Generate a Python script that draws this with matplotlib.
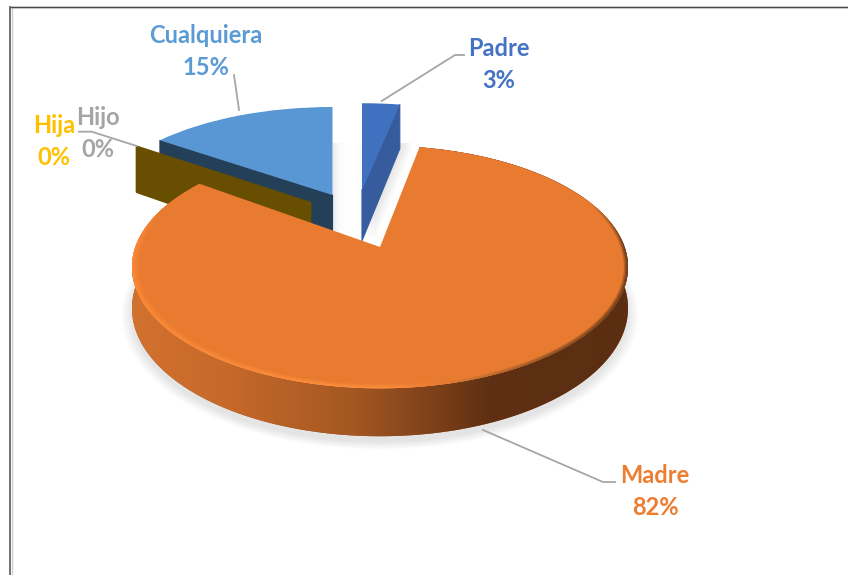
import numpy as np
import matplotlib
matplotlib.use("Agg")
import matplotlib.pyplot as plt
from matplotlib.transforms import Transform
from matplotlib.collections import PolyCollection
from matplotlib.colors import LinearSegmentedColormap
from matplotlib.patches import Polygon, Circle, Rectangle

categories = ["Padre", "Madre", "Hija", "Hijo", "Cualquiera"]
percentages = [3, 82, 0, 0, 15]
slice_colors = ["#4070c0", "#e97b31", "#ffc000", "#a5a5a5", "#5897d3"]
label_colors = ["#4472c4", "#ed7d31", "#ffc000", "#a5a5a5", "#5b9bd5"]
face_colors = ["#365c9e", "#8a4a1c", "#674e00", "#6e6e6e", "#243f58"]

# layout of the projected slices, in pixels
TIP_Y, A, B, P = 247.0, 244.6, 118.0, 0.165
slice_tip_x = [362.0, 380.0, 310.0, 310.0, 332.5]
slice_lift = [0.525, 0.0, 0.397, 0.397, 0.475]
slice_scale = [1.03, 1.0, 1.016, 1.016, 1.025]
slice_depth = [55, 40, 52, 52, 54]
label_pos = [(499, 64.5), (655, 491.5), (54, 141.5), (98, 133.5), (206, 51.5)]
leaders = [
    ([381.7, 455, 464], [101, 55, 55]),
    ([483, 603, 615], [430, 482, 482]),
    ([136.7, 91.7, 79], [146, 131.7, 131.7]),
    ([239, 234], [110, 75]),
]


class Persp(Transform):
    input_dims = 2
    output_dims = 2
    is_separable = False
    has_inverse = False

    def __init__(self, i, zdrop=0.0):
        super().__init__()
        self.tip_x = slice_tip_x[i]
        self.sx = slice_scale[i]
        self.zdrop = zdrop

    def transform_non_affine(self, values):
        values = np.asarray(values, dtype=float)
        u, v = values[:, 0], values[:, 1]
        w = 1 + P * v
        return np.column_stack([self.tip_x + self.sx * A * u / w,
                                TIP_Y + (self.zdrop - B * v) / w])


fig = plt.figure(figsize=(8.48, 5.75), dpi=100, facecolor="white")
ax = fig.add_axes([0, 0, 1, 1])

wedges, _ = ax.pie(percentages, colors=slice_colors, startangle=90,
                   counterclock=False, radius=1.0,
                   wedgeprops=dict(linewidth=0))
ax.set_aspect("auto")
ax.set_xlim(0, 848)
ax.set_ylim(575, 0)
ax.axis("off")


def rim(i, theta, r=1.0):
    t = np.radians(theta)
    return np.column_stack([r * np.cos(t), slice_lift[i] + r * np.sin(t)])


def cut_face(i, theta, color, lw=0.8, z=2):
    pts = np.vstack([[0.0, slice_lift[i]], rim(i, np.array([theta]))])
    top = Persp(i).transform_non_affine(pts)
    bot = Persp(i, slice_depth[i]).transform_non_affine(pts)
    ax.add_patch(Polygon(np.vstack([top, bot[::-1]]), closed=True, facecolor=color,
                         edgecolor=color, linewidth=lw, joinstyle="round", zorder=z))


# soft ground shadow of the large slice, only below the gaps
ground_clip = Rectangle((0, 262), 848, 313, transform=ax.transData)
for r in np.linspace(1.04, 1.0, 9):
    disc = Circle((0, 0), r, facecolor="black", alpha=0.012, linewidth=0,
                  transform=Persp(1, slice_depth[1] + 5) + ax.transData, zorder=0.5)
    ax.add_patch(disc)
    disc.set_clip_path(ground_clip)

# shadow in the gaps between the slices
xs = np.arange(333, 363)
alpha = 0.09 * np.exp(-(xs - 333) / 4.5) + 0.05 * np.exp(-(362 - xs) / 2.5)
rgba = np.zeros((1, xs.size, 4))
rgba[0, :, 3] = alpha
ax.imshow(rgba, extent=(333, 363, 245, 143), aspect="auto", interpolation="bilinear", zorder=0.6)
ax.set_xlim(0, 848)
ax.set_ylim(575, 0)

clip = Rectangle((340, 143), 100, 110, transform=ax.transData)
pts = np.vstack([[0.0, slice_lift[0]], rim(0, np.array([wedges[0].theta1]))])
for dx in (3, 6, 9, 12):
    t = Persp(0).transform_non_affine(pts)
    b = Persp(0, slice_depth[0]).transform_non_affine(pts)
    poly = Polygon(np.vstack([t, b[::-1]]) + [dx, 0], closed=True, facecolor="black",
                   alpha=0.025, linewidth=0, zorder=0.7)
    ax.add_patch(poly)
    poly.set_clip_path(clip)

# cut faces of the exploded slices
cut_face(4, wedges[4].theta2, face_colors[4], z=1)
cut_face(2, wedges[4].theta2, face_colors[2], lw=2.0, z=1.5)
cut_face(0, wedges[0].theta1, face_colors[0], z=1)

# wall of the large slice with its left-to-right shading
wall_cmap = LinearSegmentedColormap.from_list(
    "wall", [(0.0, "#d2722f"), (0.2, "#c5682a"), (0.45, "#a35722"),
             (0.62, "#7a3f19"), (0.72, "#5f3012"), (1.0, "#5b2e12")])
m = wedges[1]
angles = np.linspace(m.theta1, m.theta2, 720)
arc = rim(1, angles)
top = Persp(1).transform_non_affine(arc)
bot = Persp(1, slice_depth[1]).transform_non_affine(arc)
wall = Polygon(np.vstack([top, bot[::-1]]), closed=True, facecolor="#a35722",
               linewidth=0, zorder=2.9)
ax.add_patch(wall)
grad = ax.imshow(np.linspace(0, 1, 256)[None, :], cmap=wall_cmap, extent=(132, 628, 440, 140),
                 aspect="auto", interpolation="bilinear", zorder=3)
grad.set_clip_path(wall)
ax.set_xlim(0, 848)
ax.set_ylim(575, 0)

# slice tops through the projection
for i, w in enumerate(wedges):
    w.set_center((0.0, slice_lift[i]))
    w.set_transform(Persp(i) + ax.transData)
    w.set_zorder(4 if i == 1 else 2)
    w.set_clip_on(False)

# bevel along the front edge of the large slice, built of fading rings
bevel_cmap = LinearSegmentedColormap.from_list(
    "bevel", [(0.0, "#fb8a38"), (0.5, "#fc8f3e"), (0.60, "#f08034"),
              (0.70, "#c87030"), (0.85, "#8a5024"), (1.0, "#6b3c1a")])
frac = (top[:, 0] - 132) / (628 - 132)
fade = np.clip((top[:, 1] - 205) / 45.0, 0, 1)
for r_in, a0 in ((0.972, 0.18), (0.978, 0.3), (0.984, 0.45), (0.990, 0.65), (0.995, 0.85)):
    inner = Persp(1).transform_non_affine(rim(1, angles, r_in))
    width_gate = np.where(frac > 0.62, (r_in > 0.983) * 1.0, 1.0)
    bq = [[inner[i], inner[i + 1], top[i + 1], top[i]] for i in range(len(arc) - 1)]
    bc = bevel_cmap(frac[:-1])
    bc[:, 3] = a0 * fade[:-1] * width_gate[:-1]
    ax.add_collection(PolyCollection(bq, facecolors=bc, edgecolors="none", zorder=5))

# leader lines
for lx, ly in leaders:
    ax.plot(lx, ly, color="#a6a6a6", lw=1.3, solid_joinstyle="round", zorder=6)

# labels
plt.rcParams["font.family"] = ["Lato", "DejaVu Sans"]
for name, pct, col, (x, y) in zip(categories, percentages, label_colors, label_pos):
    ax.text(x, y, f"{name}\n{pct}%", color=col, ha="center", va="center",
            fontsize=17, fontweight="bold", linespacing=1.46, zorder=7)

# picture frame
ax.plot([10, 848], [7, 7], color="#e6e6e6", lw=2.2, zorder=8, solid_capstyle="butt")
ax.plot([10, 848], [6.5, 6.5], color="#4a4a4a", lw=1.0, zorder=9, solid_capstyle="butt")
ax.plot([11.5, 11.5], [7, 575], color="#cfcfcf", lw=1.0, zorder=8, solid_capstyle="butt")
ax.plot([10, 10], [6, 575], color="#5a5a5a", lw=1.2, zorder=9, solid_capstyle="butt")

fig.savefig("out.png", dpi=100, facecolor="white")
